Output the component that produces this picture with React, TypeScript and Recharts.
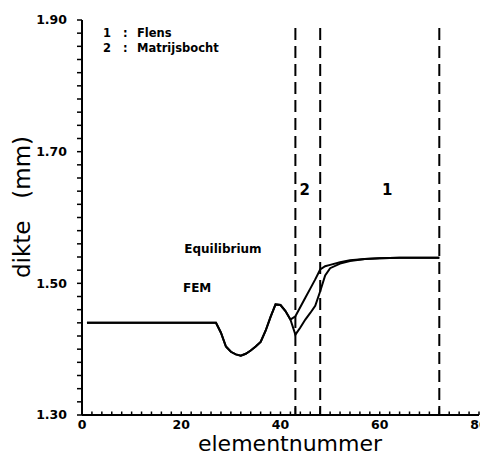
import React from 'react';
import { LineChart, Line, XAxis, YAxis, ReferenceLine, ReferenceDot, Label } from 'recharts';

const FONT = '"DejaVu Sans", Verdana, sans-serif';

// element number along the strip
const elements = [1, 27, 28, 29, 30, 31, 32, 33, 34, 35, 36, 37, 38, 39, 40, 41, 42, 43, 44, 45, 46, 47, 48, 49, 50, 52, 54, 57, 60, 64, 68, 72];
// thickness (mm)
const fem = [1.44, 1.44, 1.425, 1.404, 1.396, 1.392, 1.39, 1.393, 1.398, 1.404, 1.411, 1.428, 1.449, 1.468, 1.467, 1.458, 1.445, 1.422, 1.433, 1.445, 1.455, 1.466, 1.488, 1.512, 1.523, 1.53, 1.534, 1.537, 1.538, 1.539, 1.539, 1.539];
const equilibrium = [1.44, 1.44, 1.425, 1.404, 1.396, 1.392, 1.39, 1.393, 1.398, 1.404, 1.411, 1.428, 1.449, 1.468, 1.467, 1.458, 1.445, 1.45, 1.464, 1.478, 1.492, 1.506, 1.521, 1.526, 1.528, 1.532, 1.535, 1.537, 1.538, 1.539, 1.539, 1.539];

// region borders (2 = matrijsbocht, 1 = flens)
const borders = [43, 48, 72];
const regionLabels = [{ text: '2', x: 44.9, y: 1.642 }, { text: '1', x: 61.5, y: 1.642 }];

const xLabels = ['0', '20', '40', '60', '80'];
const yLabels = ['1.30', '1.50', '1.70', '1.90'];

const data = elements.map((e, i) => ({ e, fem: fem[i], eq: equilibrium[i] }));

const xTicks = Array.from({ length: 41 }, (_, i) => i * 2);
const yTicks = Array.from({ length: 31 }, (_, i) => +(1.3 + i * 0.02).toFixed(2));

const XTick = (props: any) => {
  const lab = String(props.payload.value);
  if (!xLabels.includes(lab)) return <g />;
  return (
    <text x={props.x} y={props.y} dy="0.35em" textAnchor="middle" fontSize={12.5} fontWeight="bold" fontFamily={FONT} fill="#000">
      {lab}
    </text>
  );
};

const YTick = (props: any) => {
  const lab = Number(props.payload.value).toFixed(2);
  if (!yLabels.includes(lab)) return <g />;
  return (
    <text x={props.x} y={props.y} dy="0.35em" textAnchor="end" fontSize={12.5} fontWeight="bold" fontFamily={FONT} fill="#000">
      {lab}
    </text>
  );
};

const txt = { fontFamily: FONT, fontWeight: 'bold' as const, fill: '#000' };

export default function App() {
  return (
    <div style={{ position: 'relative', width: 480, height: 446, background: '#fff' }}>
      <LineChart width={480} height={446} data={data} margin={{ top: 12, right: 9, bottom: 0, left: 0 }}>
        <XAxis
          dataKey="e"
          type="number"
          domain={[0, 80]}
          ticks={xTicks}
          interval={0}
          height={39}
          tickSize={-3.5}
          tickMargin={13}
          tickLine={{ stroke: '#000', strokeWidth: 1.5 }}
          tick={<XTick />}
          axisLine={{ stroke: '#000', strokeWidth: 2 }}
          allowDataOverflow
        />
        <YAxis
          type="number"
          domain={[1.3, 1.9]}
          ticks={yTicks}
          interval={0}
          width={74}
          tickSize={5}
          tickMargin={10}
          tickLine={{ stroke: '#000', strokeWidth: 1.5 }}
          tick={<YTick />}
          axisLine={{ stroke: '#000', strokeWidth: 2 }}
          allowDataOverflow
        />
        {borders.map((b) => (
          <ReferenceLine
            key={b}
            segment={[{ x: b, y: 1.888 }, { x: b, y: 1.3 }]}
            stroke="#000"
            strokeWidth={2}
            strokeDasharray="12 6"
          />
        ))}
        {borders.map((b) => (
          <ReferenceLine key={`t${b}`} segment={[{ x: b, y: 1.3 }, { x: b, y: 1.311 }]} stroke="#000" strokeWidth={1.5} />
        ))}
        <Line type="linear" dataKey="eq" stroke="#000" strokeWidth={2} dot={false} isAnimationActive={false} />
        <Line type="linear" dataKey="fem" stroke="#000" strokeWidth={2} dot={false} isAnimationActive={false} />
        {regionLabels.map((r) => (
          <ReferenceDot key={r.text} x={r.x} y={r.y} r={0} fill="none" stroke="none">
            <Label value={r.text} position="center" fontSize={15} {...txt} />
          </ReferenceDot>
        ))}
        <ReferenceDot x={28.4} y={1.553} r={0} fill="none" stroke="none">
          <Label value="Equilibrium" position="center" fontSize={12} {...txt} />
        </ReferenceDot>
        <ReferenceDot x={23.2} y={1.494} r={0} fill="none" stroke="none">
          <Label value="FEM" position="center" fontSize={12} {...txt} />
        </ReferenceDot>
      </LineChart>

      {/* legenda */}
      <div style={{ position: 'absolute', left: 95, top: 18, fontFamily: FONT, fontWeight: 'bold', fontSize: 11.5, lineHeight: '15px', color: '#000' }}>
        <div style={{ display: 'flex' }}><span style={{ width: 20 }}>1</span><span style={{ width: 14 }}>:</span><span>Flens</span></div>
        <div style={{ display: 'flex' }}><span style={{ width: 20 }}>2</span><span style={{ width: 14 }}>:</span><span>Matrijsbocht</span></div>
      </div>

      <div
        style={{
          position: 'absolute', left: 14, top: 199, transform: 'translate(-50%, -50%) rotate(-90deg)',
          fontFamily: FONT, fontSize: 23, whiteSpace: 'pre', color: '#000', lineHeight: 1,
        }}
      >
        {'dikte   (mm)'}
      </div>
      <div
        style={{
          position: 'absolute', left: 282, top: 428.4, transform: 'translateX(-50%)',
          fontFamily: FONT, fontSize: 22, whiteSpace: 'pre', color: '#000', lineHeight: '16px',
        }}
      >
        elementnummer
      </div>
    </div>
  );
}
